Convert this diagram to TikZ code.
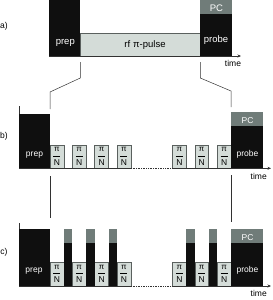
\documentclass[tikz,border=0pt]{standalone}
\usepackage{fontspec}
\setmainfont{Liberation Sans}
\usetikzlibrary{fit,arrows.meta}
\definecolor{blk}{RGB}{15,15,15}
\definecolor{lg}{RGB}{212,220,216}
\definecolor{bd}{RGB}{90,96,94}
\definecolor{pcg}{RGB}{112,124,121}
\definecolor{ln}{RGB}{50,50,50}
\newcommand\pifrac{\(\displaystyle\frac{\hbox to 7pt{\hfil\fontsize{8}{8}\selectfont π\hfil}}{\hbox{\fontsize{8.5}{8.5}\selectfont N}}\)}
\begin{document}
\begin{tikzpicture}[x=1pt,y=-1pt,
  blackbox/.style={fill=blk,inner sep=0pt,outer sep=0pt},
  pcbox/.style={fill=pcg,inner sep=0pt,outer sep=0pt},
  litebox/.style={fill=lg,draw=bd,line width=0.6pt,inner sep=0pt,outer sep=0pt},
  bigtxt/.style={font=\fontsize{9.5}{10}\selectfont,inner sep=0pt,anchor=base},
  smtxt/.style={font=\fontsize{8.5}{9}\selectfont,inner sep=0pt,anchor=base},
  wtxt/.style={text=white},
  conn/.style={draw=ln,line width=0.5pt},
  axisline/.style={draw=ln,line width=0.7pt},
  arr/.style={-{Stealth[length=3.5pt,width=3pt]}},
  pnlabel/.style={inner sep=0pt,text=black}
]
\useasboundingbox (0,0) rectangle (273,300);

% ---------- panel a ----------
\node[blackbox,fit={(49.3,0) (80.3,56)}] (prepa) {};
\node[litebox,fit={(80.3,33.3) (200.3,56)}] (rfa) {};
\node[pcbox,fit={(200.3,0) (231.7,13.7)}] (pca) {};
\node[blackbox,fit={(200.3,13.7) (231.7,56)}] (probea) {};
\coordinate (enda) at (241,56);
\draw[axisline,arr] (prepa.south west) -- (enda);
\node[bigtxt,wtxt] (tprepa) at (65.3,44.5) {prep};
\node[bigtxt,wtxt] (tprobea) at (216,42.5) {probe};
\node[bigtxt,wtxt] (tpca) at (216.5,11) {PC};
\node[bigtxt] (trfa) at (145,47.5) {rf\hspace{3pt}π-pulse};
\node[smtxt] (ttimea) at (233,66.5) {time};
\node[smtxt] (la) at (4,28.5) {a)};

% ---------- panel b ----------
\node[blackbox,fit={(19,114) (50,168.3)}] (prepb) {};
\foreach \i/\x in {1/50,2/72.35,3/94.7,4/117.05,5/172.5,6/194.85,7/217.2}{
  \node[litebox,fit={(\x,145) ({\x+13.8},168.3)}] (pnb\i) {};
  \node[pnlabel] (fb\i) at ([yshift=0.5pt]pnb\i.center) {\pifrac};
}
\node[pcbox,fit={(231,112) (263.3,125.7)}] (pcb) {};
\node[blackbox,fit={(231,125.7) (263.3,168.3)}] (probeb) {};
\coordinate (endb) at (271,168.3);
\draw[axisline] (prepb.south west) -- (pnb4.south east);
\draw[axisline,densely dotted] (pnb4.south east) -- (pnb5.south west);
\draw[axisline,arr] (pnb5.south west) -- (endb);
\draw[conn] (prepb.north west) -- ++(0,-8);
\node[smtxt,wtxt] (tprepb) at (34.5,156) {prep};
\node[smtxt,wtxt] (tprobeb) at (247.5,156) {probe};
\node[smtxt,wtxt] (tpcb) at (247.5,123) {PC};
\node[smtxt] (ttimeb) at (258.7,179) {time};
\node[smtxt] (lb) at (4,138) {b)};

% ---------- panel c ----------
\node[blackbox,fit={(19,229) (50,286)}] (prepc) {};
\foreach \i/\x in {1/50,2/72.35,3/94.7,4/117.05,5/172.5,6/194.85,7/217.2}{
  \node[litebox,fit={(\x,262.7) ({\x+13.8},286)}] (pnc\i) {};
  \node[pnlabel] (fc\i) at ([yshift=0.5pt]pnc\i.center) {\pifrac};
}
\foreach \i/\x in {1/63.8,2/86.15,3/108.5,4/186.3,5/208.65}{
  \node[pcbox,fit={(\x,229) ({\x+8.55},243.3)}] (bartop\i) {};
  \node[blackbox,fit={(\x,243.3) ({\x+8.55},286)}] (bar\i) {};
}
\node[pcbox,fit={(231,229) (263.3,243.3)}] (pcc) {};
\node[blackbox,fit={(231,243.3) (263.3,286)}] (probec) {};
\coordinate (endc) at (271,286);
\draw[axisline] (prepc.south west) -- (pnc4.south east);
\draw[axisline,densely dotted] (pnc4.south east) -- (pnc5.south west);
\draw[axisline,arr] (pnc5.south west) -- (endc);
\draw[conn] (prepc.north west) -- ++(0,-6);
\node[smtxt,wtxt] (tprepc) at (34,272.5) {prep};
\node[smtxt,wtxt] (tprobec) at (247.5,272.5) {probe};
\node[smtxt,wtxt] (tpcc) at (247.5,240.5) {PC};
\node[smtxt] (ttimec) at (258.7,296.5) {time};
\node[smtxt] (lc) at (4,254) {c)};

% ---------- zoom connectors ----------
\draw[conn] ([yshift=-6pt]rfa.south west) -- ++(0,16) -- ([yshift=22pt]prepb.north east) -- ([yshift=5pt]prepb.north east);
\draw[conn] ([yshift=-6pt]probea.south west) -- ++(0,16) -- ([yshift=21pt]pcb.north west) -- ([yshift=5pt]pcb.north west);
\draw[conn] ([yshift=-8pt]pnb1.south west) -- ([yshift=11pt]prepc.north east);
\draw[conn] ([yshift=-7pt]probeb.south west) -- ([yshift=7.5pt]pcc.north west);
\end{tikzpicture}
\end{document}
